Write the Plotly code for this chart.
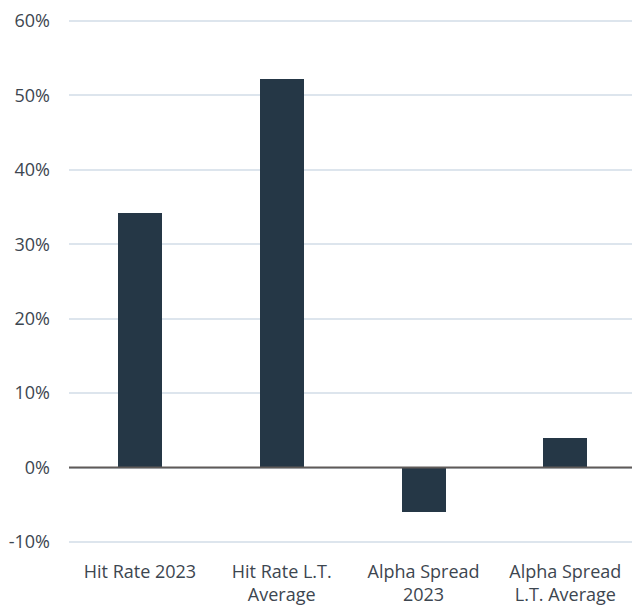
import plotly.graph_objects as go

# Categories and values (percent)
categories = ["Hit Rate 2023", "Hit Rate L.T.<br>Average", "Alpha Spread<br>2023", "Alpha Spread<br>L.T. Average"]
values = [34.2, 52.2, -6.0, 4.0]
y_ticks = [-10, 0, 10, 20, 30, 40, 50, 60]
y_tick_labels = [f"{v}%" for v in y_ticks]

BAR = "#253746"
TEXT = "#3d4650"
GRID = "#dde5ed"
BASE = "#5f5a58"

fig = go.Figure(
    go.Bar(
        x=list(range(len(categories))),
        y=values,
        width=0.31,
        marker=dict(color=BAR, line=dict(width=0)),
        hoverinfo="skip",
    )
)

# Zero baseline drawn above bars
fig.add_shape(
    type="line", xref="paper", yref="y", x0=0, x1=1, y0=0, y1=0,
    line=dict(color=BASE, width=2), layer="above",
)

fig.update_layout(
    width=632,
    height=606,
    margin=dict(l=69, r=0, t=20, b=63),
    paper_bgcolor="white",
    plot_bgcolor="white",
    showlegend=False,
    bargap=0,
    font=dict(family="Open Sans", size=18, color=TEXT),
)

fig.update_xaxes(
    tickmode="array",
    tickvals=list(range(len(categories))),
    ticktext=categories,
    range=[-0.5, 3.47],
    showgrid=False,
    zeroline=False,
    showline=False,
    ticks="",
    ticklabelstandoff=16,
    tickfont=dict(size=18, color=TEXT),
)

fig.update_yaxes(
    range=[-10.14, 60.14],
    tickmode="array",
    tickvals=y_ticks,
    ticktext=y_tick_labels,
    showgrid=True,
    gridcolor=GRID,
    gridwidth=1.5,
    zeroline=False,
    showline=False,
    ticks="",
    ticklabelstandoff=18,
    tickfont=dict(size=18, color=TEXT),
)

fig.write_html("out.html")
